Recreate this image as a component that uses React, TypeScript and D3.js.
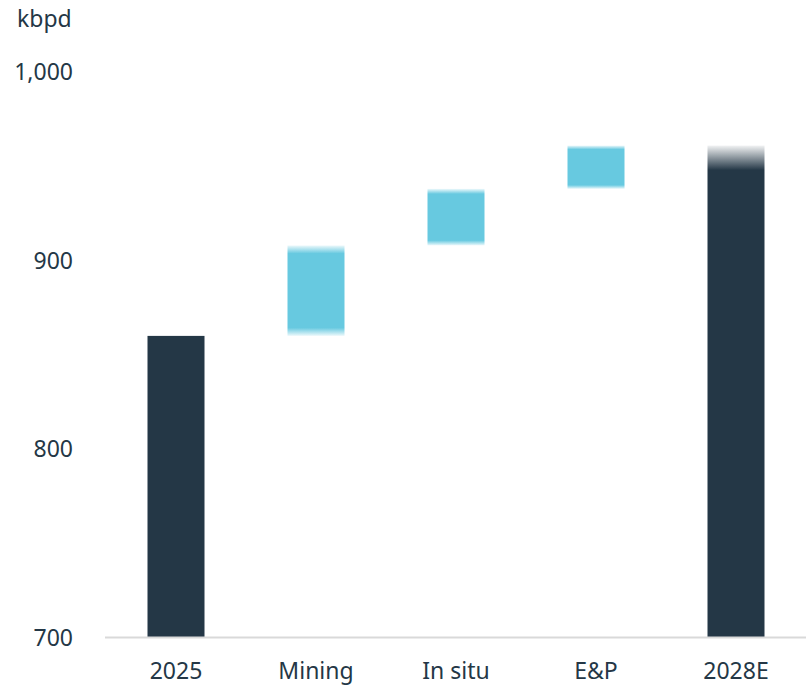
import React from "react";
import * as d3 from "d3";

const categories = ["2025", "Mining", "In situ", "E&P", "2028E"];
const values = [860, 48, 30, 23, 961];
const kinds = ["total", "delta", "delta", "delta", "total"];
const yTicks = [700, 800, 900, 1000];
const unitLabel = "kbpd";

const W = 807;
const H = 686;
const DARK = "#243746";
const CYAN = "#67c9e0";
const TEXT = "#243746";
const FONT = "'Noto Sans', 'Open Sans', sans-serif";

export default function App() {
  const x = d3.scaleBand<string>().domain(categories).range([106, 806]).padding(0);
  const y = d3.scaleLinear().domain([700, 1000]).range([637.5, 72]);
  const barW = 57;

  let running = 0;
  const bars = categories.map((c, i) => {
    let y0: number, y1: number;
    if (kinds[i] === "total") {
      y0 = 700;
      y1 = values[i];
      running = values[i];
    } else {
      y0 = running;
      y1 = running + values[i];
      running = y1;
    }
    return { c, i, y0, y1, kind: kinds[i] };
  });

  const fmt = d3.format(",");

  return (
    <svg width={W} height={H} style={{ position: "absolute", left: 0, top: 0 }}>
      <defs>
        <linearGradient id="gDelta" x1="0" y1="0" x2="0" y2="1">
          <stop offset="0" stopColor={CYAN} stopOpacity={0.12} />
          <stop offset="0.09" stopColor={CYAN} stopOpacity={1} />
          <stop offset="0.91" stopColor={CYAN} stopOpacity={1} />
          <stop offset="1" stopColor={CYAN} stopOpacity={0.12} />
        </linearGradient>
        <linearGradient id="gEnd" x1="0" y1="0" x2="0" y2="1">
          <stop offset="0" stopColor={DARK} stopOpacity={0.06} />
          <stop offset="0.05" stopColor={DARK} stopOpacity={1} />
          <stop offset="1" stopColor={DARK} stopOpacity={1} />
        </linearGradient>
      </defs>
      <text x={17} y={27} fontFamily={FONT} fontSize={23} fill={TEXT}>
        {unitLabel}
      </text>
      {yTicks.map((t) => (
        <text
          key={t}
          x={73}
          y={y(t) + 8}
          textAnchor="end"
          fontFamily={FONT}
          fontSize={23}
          fill={TEXT}
        >
          {fmt(t)}
        </text>
      ))}
      {bars.map((b) => {
        const cx = (x(b.c) as number) + x.bandwidth() / 2;
        const top = y(Math.max(b.y0, b.y1));
        const bot = y(Math.min(b.y0, b.y1));
        let fill = DARK;
        if (b.kind === "delta") fill = "url(#gDelta)";
        else if (b.i === categories.length - 1) fill = "url(#gEnd)";
        return (
          <rect
            key={b.c}
            x={cx - barW / 2}
            y={top}
            width={barW}
            height={bot - top}
            fill={fill}
          />
        );
      })}
      <line x1={105} x2={806} y1={y(700)} y2={y(700)} stroke="#d9d9d9" strokeWidth={2} />
      {categories.map((c) => (
        <text
          key={c}
          x={(x(c) as number) + x.bandwidth() / 2}
          y={679}
          textAnchor="middle"
          fontFamily={FONT}
          fontSize={23}
          fill={TEXT}
        >
          {c}
        </text>
      ))}
    </svg>
  );
}
